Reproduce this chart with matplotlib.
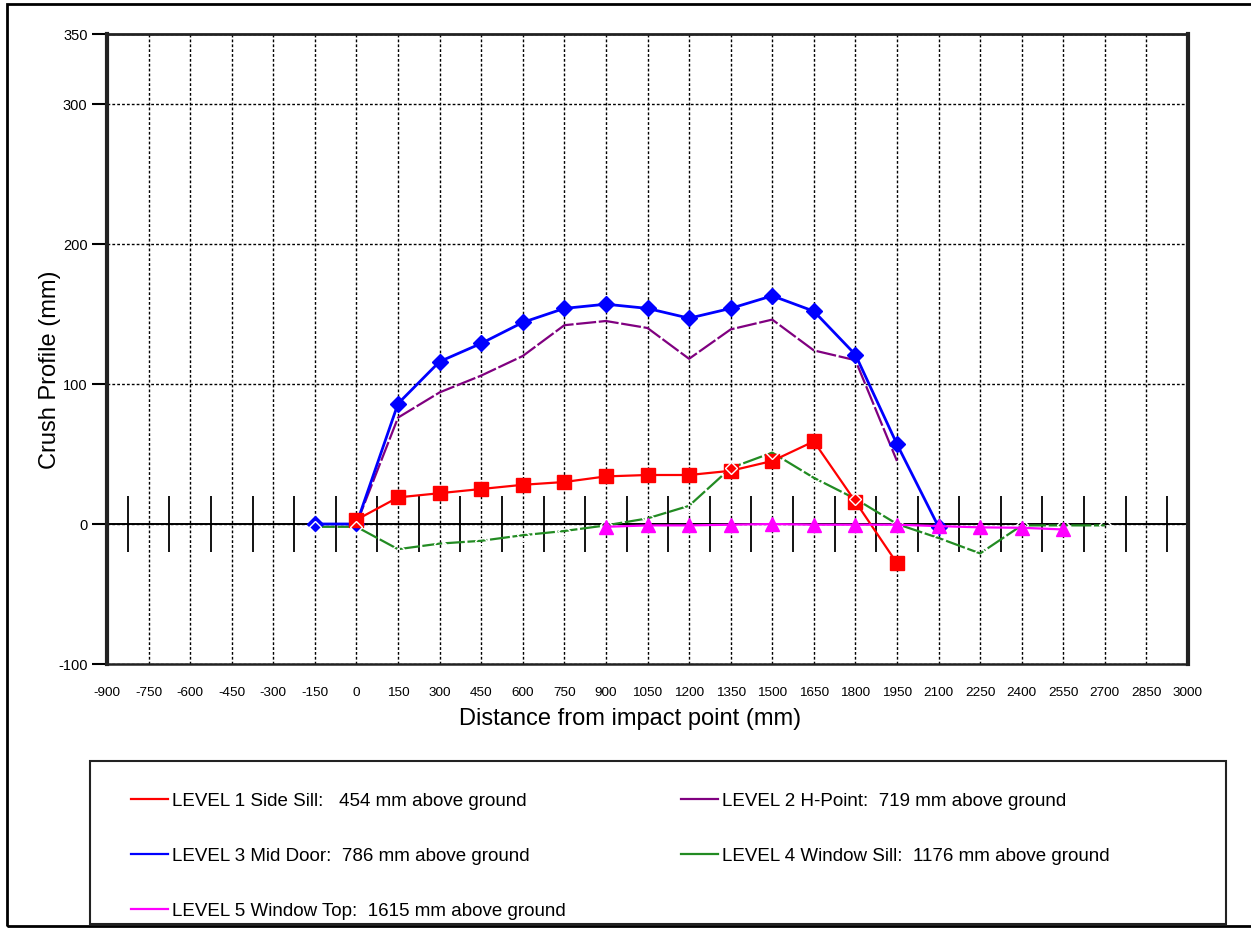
import matplotlib
matplotlib.use('Agg')
import matplotlib.pyplot as plt
from matplotlib.lines import Line2D
from matplotlib.patches import Rectangle

plt.rcParams['font.family'] = ['Liberation Sans', 'DejaVu Sans']

# ---- data ----
level1_x = [0, 150, 300, 450, 600, 750, 900, 1050, 1200, 1350, 1500, 1650, 1800, 1950]
level1_y = [3, 19, 22, 25, 28, 30, 34, 35, 35, 38, 45, 59, 16, -28]

level2_x = [0, 150, 300, 450, 600, 750, 900, 1050, 1200, 1350, 1500, 1650, 1800, 1950]
level2_y = [0, 76, 94, 106, 120, 142, 145, 140, 118, 139, 146, 124, 117, 45]

level3_x = [-150, 0, 150, 300, 450, 600, 750, 900, 1050, 1200, 1350, 1500, 1650, 1800, 1950, 2100]
level3_y = [0, 0, 86, 116, 129, 144, 154, 157, 154, 147, 154, 163, 152, 121, 57, -2]

level4_x = [-150, 0, 150, 300, 450, 600, 750, 900, 1050, 1200, 1350, 1500, 1650, 1800, 1950, 2100, 2250, 2400, 2550, 2700]
level4_y = [-2, -2, -18, -14, -12, -8, -5, -1, 4, 13, 40, 51, 33, 18, 0, -10, -21, -1, -1, -1]

level5_x = [900, 1050, 1200, 1350, 1500, 1650, 1800, 1950, 2100, 2250, 2400, 2550]
level5_y = [-2, -1, -1, -0.5, 0, -0.5, -0.5, -0.5, -1.5, -2.4, -2.7, -3.9]

labels = [
    "LEVEL 1 Side Sill:   454 mm above ground",
    "LEVEL 2 H-Point:  719 mm above ground",
    "LEVEL 3 Mid Door:  786 mm above ground",
    "LEVEL 4 Window Sill:  1176 mm above ground",
    "LEVEL 5 Window Top:  1615 mm above ground",
]

x_ticks = [-900, -750, -600, -450, -300, -150, 0, 150, 300, 450, 600, 750, 900, 1050,
           1200, 1350, 1500, 1650, 1800, 1950, 2100, 2250, 2400, 2550, 2700, 2850, 3000]
y_ticks = [-100, 0, 100, 200, 300, 350]
zero_axis_ticks = [-825, -675, -525, -375, -225, -75, 75, 225, 375, 525, 675, 825, 975,
                   1125, 1275, 1425, 1575, 1725, 1875, 2025, 2175, 2325, 2475, 2625,
                   2775, 2925]

W, H = 1251, 929
fig = plt.figure(figsize=(W / 100, H / 100), dpi=100)
fig.patch.set_facecolor('white')

# outer frame
fig.add_artist(Rectangle((7 / W, 1 - 927 / H), (1300 - 7) / W, (927 - 5) / H,
                         transform=fig.transFigure, fill=False, lw=2,
                         edgecolor='black', clip_on=False))

ax = fig.add_axes([107 / W, 1 - 665 / H, (1188 - 107) / W, (665 - 35) / H])
ax.set_xlim(-900, 3000)
ax.set_ylim(-100, 350)

ax.set_xticks(x_ticks)
ax.set_xticklabels([str(v) for v in x_ticks], fontsize=9.7)
ax.set_yticks(y_ticks)
ax.set_yticklabels([str(v) for v in y_ticks], fontsize=10.5)
ax.tick_params(axis='x', length=0, pad=16)
ax.tick_params(axis='y', length=11, width=1.5, pad=3, direction='out')

ax.grid(True, color='black', linestyle=(0, (2, 1.5)), linewidth=1.0)
ax.set_axisbelow(True)

for side, lw in [('left', 3), ('right', 3), ('top', 2), ('bottom', 1.8)]:
    ax.spines[side].set_linewidth(lw)
    ax.spines[side].set_color('#222222')

# zero axis with tick marks
ax.axhline(0, color='black', lw=1.4, zorder=2)
ax.vlines(zero_axis_ticks, -20, 20, color='black', lw=1.3, zorder=2)

red = '#ff0000'
purple = '#800080'
blue = '#0000ff'
green = '#228b22'
magenta = '#ff00ff'

ax.plot(level4_x, level4_y, color=green, lw=1.6, dashes=(9, 1.2), zorder=3)
ax.plot(level2_x, level2_y, color=purple, lw=1.6, dashes=(9, 1.2), zorder=3)
ax.plot(level3_x, level3_y, color=blue, lw=2, marker='D', markersize=8,
        markerfacecolor=blue, markeredgecolor=blue, zorder=4)
ax.plot(level1_x, level1_y, color=red, lw=1.6, marker='s', markersize=10,
        markerfacecolor=red, markeredgecolor=red, zorder=5)
# hollow white-edged diamonds of level 4 (visible only over other marks)
ax.plot(level4_x, level4_y, linestyle='none', marker='D', markersize=6,
        markerfacecolor='none', markeredgecolor='white', markeredgewidth=1.0,
        zorder=5.5)
ax.plot(level5_x, level5_y, color=magenta, lw=1.6, marker='^', markersize=10,
        markerfacecolor=magenta, markeredgecolor=magenta, zorder=6)

ax.set_xlabel("Distance from impact point (mm)", fontsize=17)
ax.xaxis.set_label_coords(0.484, -0.069)
ax.set_ylabel("Crush Profile (mm)", fontsize=17)
ax.yaxis.set_label_coords(-0.0425, 0.468)

# legend box
fig.add_artist(Rectangle((90 / W, 1 - 925 / H), (1226 - 90) / W, (925 - 762) / H,
                         transform=fig.transFigure, fill=False, lw=1.5,
                         edgecolor='#222222'))

def handle(c):
    return Line2D([], [], color=c, lw=1.6)

leg_kw = dict(frameon=False, fontsize=13.5, handlelength=1.95, handletextpad=0.22,
              labelspacing=2.02, borderpad=0, borderaxespad=0, loc='upper left')
leg1 = fig.legend([handle(red), handle(blue), handle(magenta)],
                  [labels[0], labels[2], labels[4]],
                  bbox_to_anchor=(131 / W, 1 - 793 / H), **leg_kw)
leg2 = fig.legend([handle(purple), handle(green)],
                  [labels[1], labels[3]],
                  bbox_to_anchor=(681 / W, 1 - 793 / H), **leg_kw)

fig.savefig('out.png', dpi=100)
